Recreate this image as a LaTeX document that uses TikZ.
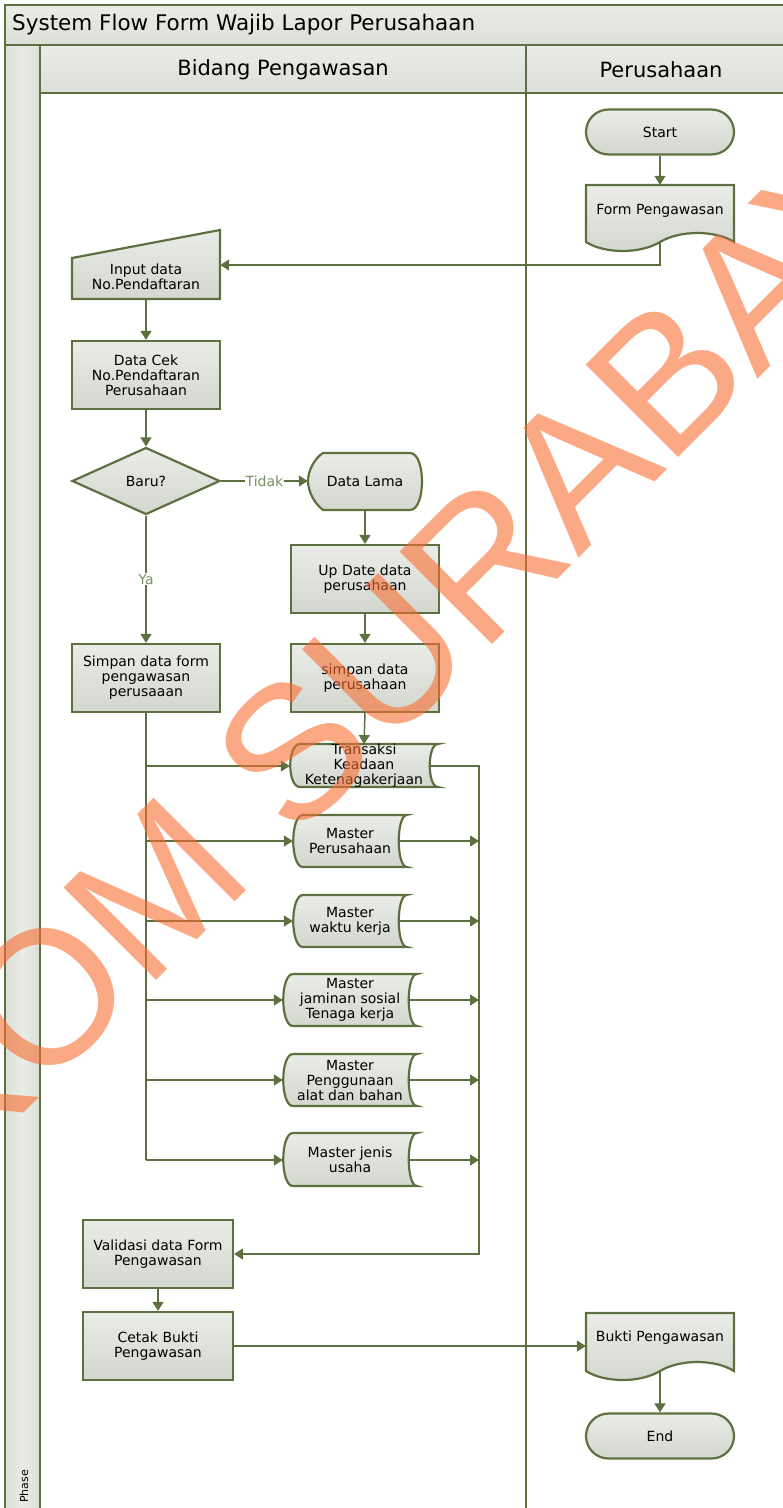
\documentclass[tikz,border=0pt]{standalone}
\usepackage{fontspec}
\setmainfont{DejaVu Sans}
\newfontfamily\wmfont{Liberation Sans}
\usetikzlibrary{arrows.meta,calc,shapes.geometric,shapes.misc}
\definecolor{lc}{RGB}{94,112,64}
\definecolor{fa}{RGB}{234,236,231}
\definecolor{fb}{RGB}{211,215,207}
\definecolor{hd}{RGB}{220,223,216}
\definecolor{lab}{RGB}{122,146,98}
\definecolor{wm}{RGB}{248,110,50}
\newcommand\nodefnt{\fontsize{14}{15}\selectfont}
\tikzset{
  frame/.style={draw=lc, line width=2.4pt},
  shp/.style={draw=lc, line width=2.2pt, top color=fa, bottom color=fb},
  txt/.style={font=\nodefnt, align=center, text=black, inner sep=0pt},
  box/.style={rectangle, shp, txt, minimum width=148pt, minimum height=68pt},
  term/.style={rounded rectangle, shp, txt, minimum width=148pt, minimum height=45pt},
  dec/.style={diamond, shp, txt, minimum width=148pt, minimum height=67pt, aspect=2.2},
  area/.style={rectangle, txt, minimum width=#1},
  arr/.style={draw=lc, line width=1.5pt, -{Triangle[length=9pt,width=11pt]}},
  con/.style={draw=lc, line width=1.5pt},
  lbl/.style={font=\nodefnt, text=lab, fill=white, inner sep=1pt},
  hdr/.style={font=\fontsize{21}{23}\selectfont, text=black, inner sep=0pt},
}
\begin{document}
\begin{tikzpicture}[x=1pt,y=-1pt]
\useasboundingbox (0,0) rectangle (783,1508);
% ---------- swimlane frame ----------
\path[top color=fa, bottom color=hd] (5,5) rectangle (790,45);
\path[top color=fa, bottom color=hd] (40,45) rectangle (790,93);
\path[left color=hd, right color=hd, middle color=fa] (5,45) rectangle (40,1512);
\draw[frame] (790,5) -- (5,5) -- (5,1512);
\draw[frame] (5,45) -- (790,45);
\draw[frame] (40,93) -- (790,93);
\draw[frame] (40,45) -- (40,1512);
\draw[frame] (526,45) -- (526,1512);
\node[hdr, anchor=west, font=\fontsize{21.5}{23}\selectfont] (title) at (12,25) {System Flow Form Wajib Lapor Perusahaan};
\node[hdr] (lane1) at (283,70) {Bidang Pengawasan};
\node[hdr] (lane2) at (661,70) {Perusahaan};
\node[font=\fontsize{11}{12}\selectfont, rotate=90, anchor=west, inner sep=0pt] (phase) at (24,1503) {Phase};
% ---------- custom shapes ----------
% document: Form Pengawasan
\path[shp] (586,185) -- (734,185) -- (734,242)
  .. controls (715,230) and (680,230) .. (660,242)
  .. controls (640,254) and (605,254) .. (586,242) -- cycle;
% document: Bukti Pengawasan
\path[shp] (586,1313) -- (734,1313) -- (734,1371)
  .. controls (715,1359) and (680,1359) .. (660,1371)
  .. controls (640,1383) and (605,1383) .. (586,1371) -- cycle;
% manual input
\path[shp] (72,258) -- (220,230) -- (220,299) -- (72,299) -- cycle;
% display: Data Lama
\path[shp] (323,453) -- (410,453) .. controls (426,453) and (426,510) .. (410,510)
  -- (323,510) .. controls (315,504) and (308,492) .. (308,481)
  .. controls (308,470) and (315,458) .. (323,453) -- cycle;
% stored data shapes
\newcommand\storedshape[4]{%
  \path[shp] ({#1+10},#3) -- (#2,#3) .. controls ({#2-11},#3) and ({#2-11},#4) .. (#2,#4)
    -- ({#1+10},#4) .. controls ({#1-3},#4) and ({#1-3},#3) .. ({#1+10},#3) -- cycle;}
\storedshape{290}{438}{744}{787}
\storedshape{293}{407}{815}{867}
\storedshape{293}{407}{895}{947}
\storedshape{283}{417}{974}{1026}
\storedshape{283}{417}{1054}{1106}
\storedshape{283}{417}{1133}{1186}
% ---------- nodes ----------
\node[term] (start) at (660,132) {Start};
\node[area=148pt, minimum height=52pt] (form) at (660,211) {Form Pengawasan};
\node[area=148pt, minimum height=42pt] (inp) at (146,277) {Input data\\No.Pendaftaran};
\node[box] (cek) at (146,375) {Data Cek\\No.Pendaftaran\\Perusahaan};
\node[dec] (baru) at (146,481) {Baru?};
\node[area=114pt, minimum height=57pt] (lama) at (365,481) {Data Lama};
\node[box] (upd) at (365,579) {Up Date data\\perusahaan};
\node[box] (sdp) at (365,678) {simpan data\\perusahaan};
\node[box] (sf) at (146,678) {Simpan data form\\pengawasan\\perusaaan};
\node[area=148pt, minimum height=43pt] (tk) at (364,766) {Transaksi\\Keadaan\\Ketenagakerjaan};
\node[area=114pt, minimum height=52pt] (m1) at (350,841) {Master\\Perusahaan};
\node[area=114pt, minimum height=52pt] (m2) at (350,921) {Master\\waktu kerja};
\node[area=134pt, minimum height=52pt] (m3) at (350,1000) {Master\\jaminan sosial\\Tenaga kerja};
\node[area=134pt, minimum height=52pt] (m4) at (350,1080) {Master\\Penggunaan\\alat dan bahan};
\node[area=134pt, minimum height=52pt] (m5) at (350,1160) {Master jenis\\usaha};
\node[box, minimum width=150pt] (val) at (158,1254) {Validasi data Form\\Pengawasan};
\node[box, minimum width=150pt] (cetak) at (158,1346) {Cetak Bukti\\Pengawasan};
\node[area=148pt, minimum height=50pt] (bukti) at (660,1338) {Bukti Pengawasan};
\node[term] (end) at (660,1436) {End};
\coordinate (coll) at (479,766);
% ---------- connectors ----------
\draw[arr] (start.south) -- (form.north);
\draw[arr] ($(form.south)+(0,6)$) |- ($(inp.east)+(0,-12)$);
\draw[arr] (inp.south) -- (cek.north);
\draw[arr] (cek.south) -- (baru.north);
\draw[arr] (baru.east) -- node[lbl] {Tidak} (lama.west);
\draw[arr] (baru.south) -- node[lbl, pos=0.5] {Ya} (sf.north);
\draw[arr] (lama.south) -- (upd.north);
\draw[arr] (upd.south) -- (sdp.north);
\draw[arr] (sdp.south) -- (tk.north);
\draw[con] (sf.south) -- (sf.south |- m5.west);
\draw[arr] (sf.south |- tk.west) -- (tk.west);
\draw[arr] (sf.south |- m1.west) -- (m1.west);
\draw[arr] (sf.south |- m2.west) -- (m2.west);
\draw[arr] (sf.south |- m3.west) -- (m3.west);
\draw[arr] (sf.south |- m4.west) -- (m4.west);
\draw[arr] (sf.south |- m5.west) -- (m5.west);
\draw[arr] ($(tk.east)+(-9,0)$) -- (coll) |- (val.east);
\draw[arr] ($(m1.east)+(-8,0)$) -- (m1.east -| coll);
\draw[arr] ($(m2.east)+(-8,0)$) -- (m2.east -| coll);
\draw[arr] ($(m3.east)+(-8,0)$) -- (m3.east -| coll);
\draw[arr] ($(m4.east)+(-8,0)$) -- (m4.east -| coll);
\draw[arr] ($(m5.east)+(-8,0)$) -- (m5.east -| coll);
\draw[arr] (val.south) -- (cetak.north);
\draw[arr] (cetak.east) -- (cetak.east -| bukti.west);
\draw[arr] ($(bukti.south)+(0,8)$) -- (end.north);
% ---------- watermark ----------
\node[rotate=45, text=wm, text opacity=0.6, inner sep=0pt, font=\wmfont\fontsize{190}{190}\selectfont] (wmark) at (328,716) {STIKOM SURABAYA};
\end{tikzpicture}
\end{document}
